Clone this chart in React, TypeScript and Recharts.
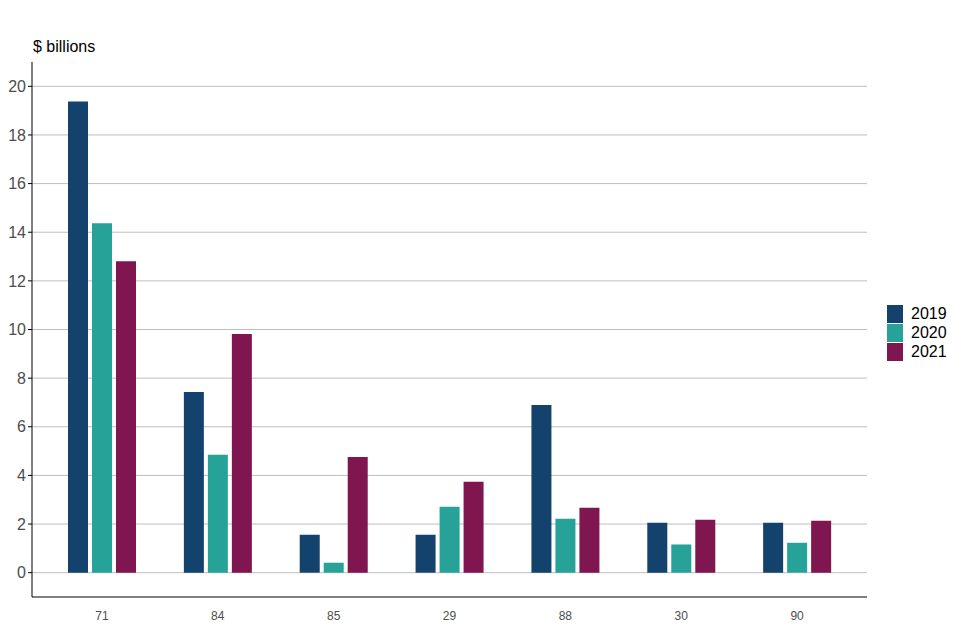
import React from "react";
import { BarChart, Bar, XAxis, YAxis, CartesianGrid, Legend } from "recharts";

const categories = ["71", "84", "85", "29", "88", "30", "90"];
const values2019 = [19.38, 7.43, 1.56, 1.56, 6.9, 2.05, 2.05];
const values2020 = [14.37, 4.85, 0.41, 2.71, 2.22, 1.16, 1.23];
const values2021 = [12.81, 9.82, 4.76, 3.74, 2.67, 2.18, 2.14];
const seriesNames = ["2019", "2020", "2021"];
const yTicks = [0, 2, 4, 6, 8, 10, 12, 14, 16, 18, 20];
const colors = ["#13426C", "#27A298", "#80164F"];

const data = categories.map((c, i) => ({
  name: c,
  "2019": values2019[i],
  "2020": values2020[i],
  "2021": values2021[i],
}));

const FONT = "'Liberation Sans', Arial, sans-serif";

const LegendContent = () => (
  <div style={{ fontFamily: FONT }}>
    {seriesNames.map((s, i) => (
      <div key={s} style={{ display: "flex", alignItems: "center", height: 19 }}>
        <div style={{ width: 16, height: 18, background: colors[i] }} />
        <span style={{ marginLeft: 8, fontSize: 16, color: "#000" }}>{s}</span>
      </div>
    ))}
  </div>
);

export default function App() {
  return (
    <div style={{ position: "relative", width: 944, height: 624 }}>
      <div
        style={{
          position: "absolute",
          left: 25,
          top: 30,
          fontFamily: FONT,
          fontSize: 16,
          color: "#000",
        }}
      >
        $ billions
      </div>
      <BarChart
        width={944}
        height={624}
        data={data}
        margin={{ top: 54, right: 15, bottom: 5, left: 0 }}
        barSize={20}
        barGap={4}
      >
        <CartesianGrid
          vertical={false}
          horizontalValues={yTicks}
          stroke="#BEBEBE"
          strokeWidth={1}
        />
        <XAxis
          dataKey="name"
          height={30}
          padding={{ left: 12, right: 12 }}
          axisLine={{ stroke: "#000" }}
          tickLine={false}
          tickMargin={8}
          tick={{ fill: "#4D4D4D", fontSize: 12, fontFamily: FONT }}
        />
        <YAxis
          width={24}
          domain={[-1, 21]}
          ticks={yTicks}
          interval={0}
          axisLine={{ stroke: "#000" }}
          tickLine={{ stroke: "#000" }}
          tickSize={4}
          tickMargin={2}
          tick={{ fill: "#4D4D4D", fontSize: 16, fontFamily: FONT }}
        />
        <Legend
          layout="vertical"
          align="right"
          verticalAlign="middle"
          content={<LegendContent />}
          wrapperStyle={{ left: 879, top: 296, width: 70 }}
        />
        {seriesNames.map((s, i) => (
          <Bar key={s} dataKey={s} fill={colors[i]} isAnimationActive={false} />
        ))}
      </BarChart>
    </div>
  );
}
